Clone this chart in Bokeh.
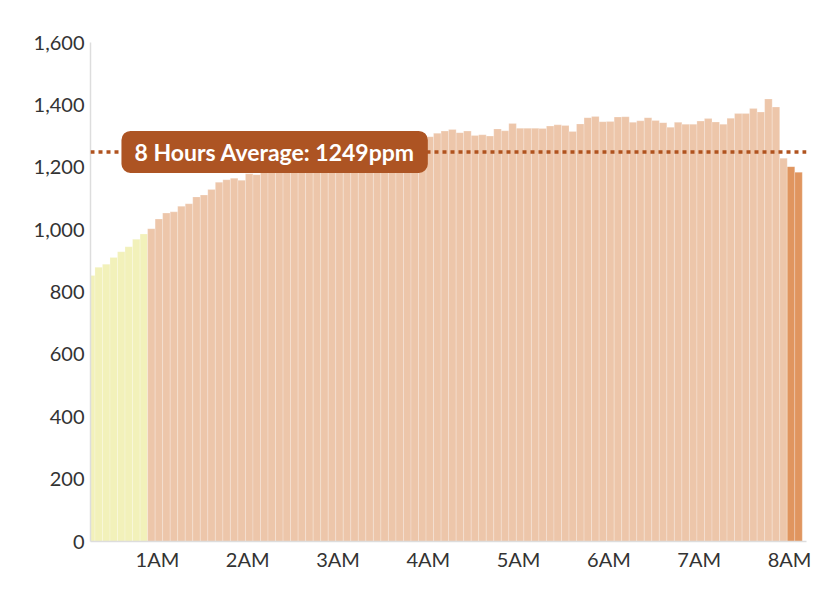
from bokeh.plotting import figure
from bokeh.models import Range1d, Span, Label, NumeralTickFormatter, FixedTicker, ColumnDataSource
from bokeh.embed import file_html
from bokeh.resources import INLINE

# CO2 readings (ppm), one bar per 5-minute sample
early_ppm = [853, 879, 889, 911, 929, 945, 969, 986]
main_ppm = [1003, 1034, 1053, 1057, 1075, 1083, 1105, 1111, 1129, 1152,
            1160, 1165, 1158, 1179, 1176, 1188, 1196, 1203, 1210, 1216,
            1221, 1228, 1233, 1238, 1244, 1248, 1253, 1257, 1262, 1266,
            1270, 1274, 1279, 1283, 1287, 1291, 1294, 1298, 1309, 1316,
            1321, 1311, 1316, 1302, 1304, 1300, 1323, 1317, 1340, 1325,
            1325, 1325, 1324, 1332, 1336, 1334, 1315, 1339, 1359, 1363,
            1346, 1347, 1361, 1362, 1344, 1349, 1359, 1350, 1343, 1328,
            1344, 1338, 1338, 1348, 1356, 1345, 1338, 1357, 1372, 1372,
            1388, 1377, 1419, 1393, 1229]
late_ppm = [1202, 1184]
average_ppm = 1249
first_sample_min = 16      # minutes after midnight of first sample
sample_step_min = 5
hour_ticks = [60, 120, 180, 240, 300, 360, 420, 480]
hour_labels = ["1AM", "2AM", "3AM", "4AM", "5AM", "6AM", "7AM", "8AM"]

FONT = "Lato"
TEXT = "#333333"

values = early_ppm + main_ppm + late_ppm
times = [first_sample_min + sample_step_min * i for i in range(len(values))]
colors = (["#F2F1BA"] * len(early_ppm) + ["#EDC6AA"] * len(main_ppm)
          + ["#E0955F"] * len(late_ppm))
src = ColumnDataSource(dict(t=times, v=values, c=colors))

p = figure(width=828, height=584, output_backend="svg", toolbar_location=None,
           x_range=Range1d(15.55, 491.3), y_range=Range1d(0, 1600),
           min_border_left=90, min_border_right=22, min_border_top=42,
           min_border_bottom=43)
p.outline_line_color = None
p.xgrid.visible = False
p.ygrid.visible = False

p.vbar(x="t", top="v", bottom=0, width=sample_step_min, source=src,
       fill_color="c", line_color="white", line_alpha=0.22, line_width=1)

p.add_layout(Span(location=average_ppm, dimension="width", line_color="#B0531F",
                  line_width=3.5, line_dash="4 4"))

p.add_layout(Label(x=137.9, y=average_ppm, text="8 Hours Average: %dppm" % average_ppm,
                   text_align="center", text_baseline="middle", text_color="white",
                   text_font=FONT, text_font_size="23px", text_font_style="bold",
                   background_fill_color="#AD5423", border_radius=9,
                   padding=(13, 7)))

for ax in (p.xaxis[0], p.yaxis[0]):
    ax.axis_line_color = "#DDDDDD"
    ax.axis_line_width = 1.5
    ax.major_tick_line_color = None
    ax.minor_tick_line_color = None
    ax.major_label_text_font = FONT
    ax.major_label_text_font_size = "20px"
    ax.major_label_text_color = TEXT

p.yaxis.major_label_standoff = 0
p.xaxis.major_label_standoff = -1
p.yaxis.ticker = FixedTicker(ticks=[0, 200, 400, 600, 800, 1000, 1200, 1400, 1600])
p.yaxis.formatter = NumeralTickFormatter(format="0,0")
p.xaxis.ticker = FixedTicker(ticks=hour_ticks)
p.xaxis.major_label_overrides = {t: l for t, l in zip(hour_ticks, hour_labels)}

open("out.html", "w").write(file_html(p, INLINE))
